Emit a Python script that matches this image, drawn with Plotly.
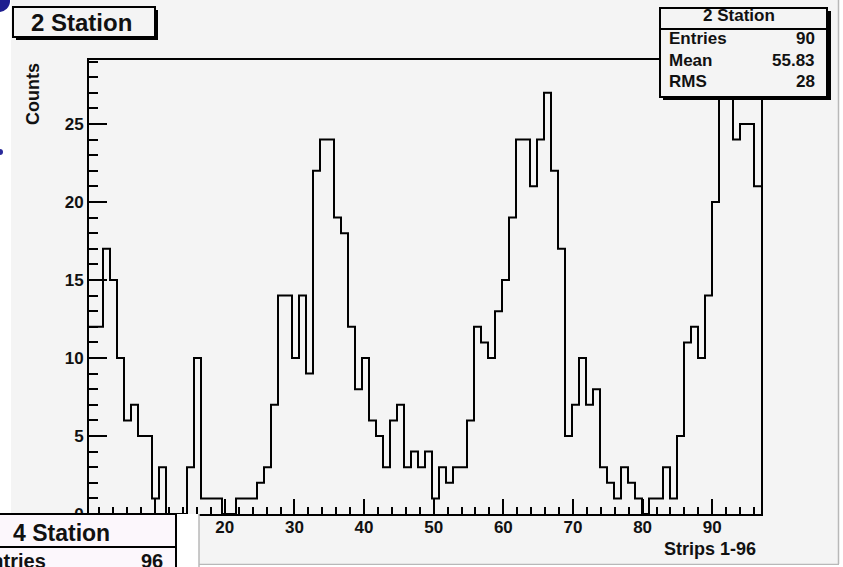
import numpy as np
import plotly.graph_objects as go

# Hit counts per strip (strips 1-96)
counts = [
    12, 12, 17, 15, 10, 6, 7, 5, 5, 1,
    3, 0, 0, 0, 3, 10, 1, 1, 1, 0,
    0, 1, 1, 1, 2, 3, 7, 14, 14, 10,
    14, 9, 22, 24, 24, 19, 18, 12, 8, 10,
    6, 5, 3, 6, 7, 3, 4, 3, 4, 1,
    3, 2, 3, 3, 6, 12, 11, 10, 13, 15,
    19, 24, 24, 21, 24, 27, 22, 17, 5, 7,
    10, 7, 8, 3, 2, 1, 3, 2, 1, 0,
    1, 1, 3, 1, 5, 11, 12, 10, 14, 20,
    28, 27, 24, 25, 25, 21,
]
x_range = [0.5, 97.0]
y_range = [0.0, 29.1]
x_ticks = [10, 20, 30, 40, 50, 60, 70, 80, 90]
y_ticks = [0, 5, 10, 15, 20, 25]
stats_labels = ["Entries", "Mean", "RMS"]
stats_values = ["90", "55.83", "28"]

W, H = 843, 567
L, R, T, B = 89, 761, 60, 514

def px(x):
    return (x - L) / (R - L)

def py(y):
    return (B - y) / (B - T)

BG = "#f4f4f4"
FONT = "Liberation Sans"

edges = np.linspace(x_range[0], x_range[1], len(counts) + 1)
yvals = list(counts) + [counts[-1]]

fig = go.Figure(go.Scatter(
    x=edges, y=yvals, mode="lines",
    line=dict(shape="hv", color="black", width=2),
    hoverinfo="skip", showlegend=False,
))

shapes = []
annotations = []

def rect(x0, y0, x1, y1, fill, line_w=0, line_c="black"):
    shapes.append(dict(type="rect", xref="paper", yref="paper",
                       x0=px(x0), x1=px(x1), y0=py(y1), y1=py(y0),
                       fillcolor=fill, line=dict(width=line_w, color=line_c),
                       layer="above"))

def hline(x0, x1, y, w=2, c="black"):
    shapes.append(dict(type="line", xref="paper", yref="paper",
                       x0=px(x0), x1=px(x1), y0=py(y), y1=py(y),
                       line=dict(width=w, color=c), layer="above"))

def vline(x, y0, y1, w=2, c="black"):
    shapes.append(dict(type="line", xref="paper", yref="paper",
                       x0=px(x), x1=px(x), y0=py(y0), y1=py(y1),
                       line=dict(width=w, color=c), layer="above"))

def text(s, x, y, size, xanchor="center", angle=0):
    annotations.append(dict(text=s, xref="paper", yref="paper", x=px(x), y=py(y),
                            xanchor=xanchor, yanchor="middle", showarrow=False,
                            textangle=angle,
                            font=dict(family=FONT, size=size, color="#111", weight="bold")))

# left strip and corner marks
rect(0, 0, 11, 514, "white")
shapes.append(dict(type="circle", xref="paper", yref="paper",
                   x0=px(-12), x1=px(10), y0=py(12), y1=py(-10),
                   fillcolor="#1d1d8f", line=dict(width=0), layer="above"))
shapes.append(dict(type="circle", xref="paper", yref="paper",
                   x0=px(-3), x1=px(3), y0=py(155), y1=py(149),
                   fillcolor="#2a2a9a", line=dict(width=0), layer="above"))

# pad border on the right and bottom
rect(839, 0, 843, 567, "white")
vline(838.5, 0, 564, w=1.5, c="#b8b8b8")
hline(199, 839, 564.5, w=1.5, c="#b8b8b8")
rect(199, 565, 843, 567, "white")

# title box
rect(16, 10, 158, 40, "black")
rect(13, 7, 155, 37, BG, line_w=2)
text("2 Station", 81, 22, 24)

# statistics box
rect(663, 11, 831, 100, "black")
rect(660, 8, 827, 97, BG, line_w=2)
hline(660, 827, 29)
text("2 Station", 739, 15, 17)
for i, (lab, val) in enumerate(zip(stats_labels, stats_values)):
    yy = 39 + i * 21
    text(lab, 667, yy, 17, xanchor="left")
    text(val, 817, yy, 17, xanchor="right")

# neighbouring pad in the lower-left corner
rect(176, 514, 199, 567, "white")
vline(199, 514, 567, w=1.5, c="#b8b8b8")
rect(-60, 514, 176, 600, "#fcf7fc", line_w=2)
hline(-60, 176, 547)
text("4 Station", 61, 533, 23)
text("Entries", -24, 561, 20, xanchor="left")
text("96", 165, 561, 20, xanchor="right")

# axis titles
text("Counts", 33, 94, 18, angle=-90)
text("Strips 1-96", 758, 549, 18, xanchor="right")

tickfont = dict(family=FONT, size=17, color="#111", weight="bold")
fig.update_layout(
    width=W, height=H, autosize=False,
    margin=dict(l=L, r=W - R, t=T, b=H - B, pad=0),
    paper_bgcolor=BG, plot_bgcolor=BG,
    xaxis=dict(range=x_range, showline=True, linecolor="black", linewidth=2,
               mirror=True, ticks="inside", ticklen=15, tickwidth=2, tickcolor="black",
               tickmode="array", tickvals=x_ticks, ticktext=[str(v) for v in x_ticks],
               tickfont=tickfont, ticklabelstandoff=-3, showgrid=False, zeroline=False,
               minor=dict(ticks="inside", ticklen=7, tickwidth=2, tickcolor="black",
                          tickmode="linear", tick0=0, dtick=2, showgrid=False)),
    yaxis=dict(range=y_range, showline=True, linecolor="black", linewidth=2,
               mirror=True, ticks="inside", ticklen=18, tickwidth=2, tickcolor="black",
               tickmode="array", tickvals=y_ticks, ticktext=[str(v) for v in y_ticks],
               tickfont=tickfont, showgrid=False, zeroline=False,
               minor=dict(ticks="inside", ticklen=9, tickwidth=2, tickcolor="black",
                          tickmode="linear", tick0=0, dtick=1, showgrid=False)),
    shapes=shapes, annotations=annotations,
)

fig.write_html("out.html")
